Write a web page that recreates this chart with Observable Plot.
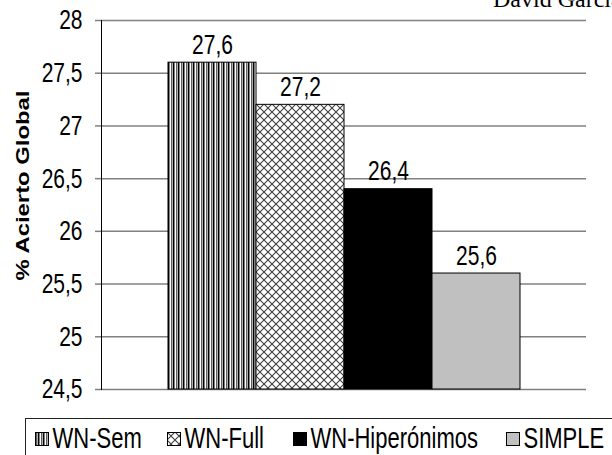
<!DOCTYPE html>
<html>
<head>
<meta charset="utf-8">
<script src="https://cdn.jsdelivr.net/npm/d3@7"></script>
<script src="https://cdn.jsdelivr.net/npm/@observablehq/plot@0.6"></script>
<style>
  body { margin: 0; background: white; }
  #wrap { position: relative; width: 612px; height: 455px; overflow: hidden; background: white; }
  #header { position: absolute; left: 493px; top: -13px; font: 24px/24px "Liberation Serif", "Times New Roman", serif; white-space: nowrap; color: #000; }
  #chart { position: absolute; left: 0; top: 0; }
  #legend { position: absolute; left: 25px; top: 418px; width: 620px; height: 60px; border: 1.5px solid #222; border-right: none; box-sizing: border-box; }
  .sw { position: absolute; top: 13px; width: 14px; height: 14px; }
  .lt { position: absolute; top: 9px; font: 22px/22px "Liberation Sans", Arial, sans-serif; white-space: nowrap; display: inline-block; transform: scaleY(1.3); transform-origin: center; color: #000; }
  g.stretch { transform-box: fill-box; transform-origin: center; transform: scaleY(1.3); }
</style>
</head>
<body>
<svg width="0" height="0" style="position:absolute">
  <defs>
    <pattern id="pSem" width="5" height="10" patternUnits="userSpaceOnUse">
      <rect width="5" height="10" fill="#ffffff"/>
      <rect x="1" width="1" height="10" fill="#606060"/>
      <rect x="2" width="1" height="10" fill="#b0b0b0"/>
      <rect x="3" width="1" height="10" fill="#000000"/>
      <rect x="4" width="1" height="10" fill="#808080"/>
    </pattern>
    <pattern id="pFull" width="8" height="8" patternUnits="userSpaceOnUse">
      <rect width="8" height="8" fill="#ffffff"/>
      <path d="M0,0L8,8M8,0L0,8" stroke="#404040" stroke-width="1.1"/>
    </pattern>
  </defs>
</svg>
<div id="wrap">
  <div id="chart"></div>
  <div id="header">David García</div>
  <div id="legend"></div>
</div>
<script>
const categories = ["WN-Sem", "WN-Full", "WN-Hiperónimos", "SIMPLE"];
const values = [27.6, 27.2, 26.4, 25.6];
const yTicks = [24.5, 25, 25.5, 26, 26.5, 27, 27.5, 28];
const yTitle = "% Acierto Global";
const fills = ["url(#pSem)", "url(#pFull)", "#000000", "#c0c0c0"];

const data = categories.map((c, i) => ({cat: c, value: values[i], fill: fills[i]}));
const comma = d => String(d).replace(".", ",");
const fmt1 = d => d.toFixed(1).replace(".", ",");

const chart = Plot.plot({
  width: 612,
  height: 418,
  marginLeft: 101,
  marginRight: 26,
  marginTop: 20,
  marginBottom: 29,
  style: {fontFamily: "'Liberation Sans', Arial, sans-serif", fontSize: "21px", background: "white", color: "black"},
  x: {domain: categories, padding: 0, insetLeft: 67, insetRight: 66, axis: null},
  y: {domain: [24.5, 28], axis: null},
  color: {type: "identity"},
  marks: [
    Plot.gridY(yTicks, {stroke: "#808080", strokeOpacity: 1, strokeWidth: 1.5}),
    Plot.axisY(yTicks, {tickSize: 6, tickPadding: 13, tickFormat: comma, stroke: "#808080", strokeWidth: 1.5, fontSize: 21, label: null}),
    Plot.barY(data, {x: "cat", y1: () => 24.5, y2: "value", fill: "fill", stroke: "black", strokeWidth: 1, inset: 0}),
    Plot.frame({anchor: "left", stroke: "black", strokeWidth: 1}),
    Plot.text(data, {x: "cat", y: "value", text: d => fmt1(d.value), lineAnchor: "bottom", dy: -11, fontSize: 21, fill: "black"}),
    Plot.text([yTitle], {frameAnchor: "left", textAnchor: "start", dx: -78, dy: 75.5, rotate: -90, fontWeight: "bold", fontSize: 18, fill: "black"})
  ]
});

document.getElementById("chart").appendChild(chart);
const ns = "http://www.w3.org/2000/svg";
chart.querySelectorAll("text").forEach(t => {
  if (t.textContent === yTitle) {
    t.setAttribute("textLength", 190);
    t.setAttribute("lengthAdjust", "spacingAndGlyphs");
    return;
  }
  const g = document.createElementNS(ns, "g");
  g.setAttribute("class", "stretch");
  t.parentNode.insertBefore(g, t);
  g.appendChild(t);
});

// legend
const legendLeft = [35, 167, 293, 506];
const legend = document.getElementById("legend");
categories.forEach((c, i) => {
  const x = legendLeft[i] - 25;
  const sw = document.createElementNS(ns, "svg");
  sw.setAttribute("class", "sw");
  sw.setAttribute("width", 14);
  sw.setAttribute("height", 14);
  sw.style.left = (x - 1.5) + "px";
  const r = document.createElementNS(ns, "rect");
  r.setAttribute("x", 0.5); r.setAttribute("y", 0.5);
  r.setAttribute("width", 13); r.setAttribute("height", 13);
  r.setAttribute("fill", fills[i]);
  r.setAttribute("stroke", "#000");
  sw.appendChild(r);
  legend.appendChild(sw);
  const lt = document.createElement("span");
  lt.className = "lt";
  lt.textContent = c;
  lt.style.left = (x - 1.5 + 18) + "px";
  legend.appendChild(lt);
});
</script>
</body>
</html>
